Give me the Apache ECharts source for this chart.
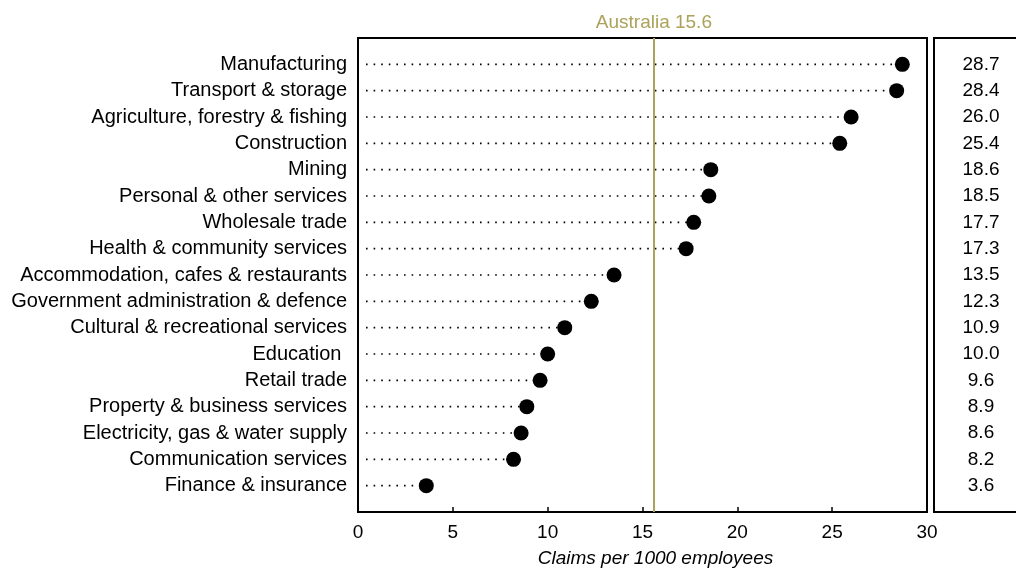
<!DOCTYPE html>
<html>
<head>
<meta charset="utf-8">
<script src="https://cdn.jsdelivr.net/npm/echarts@6/dist/echarts.min.js"></script>
<style>html,body{margin:0;padding:0;background:#fff}#c{width:1016px;height:570px}</style>
</head>
<body>
<div id="c"></div>
<script>
const industries = [
  'Manufacturing','Transport & storage','Agriculture, forestry & fishing','Construction',
  'Mining','Personal & other services','Wholesale trade','Health & community services',
  'Accommodation, cafes & restaurants','Government administration & defence',
  'Cultural & recreational services','Education ','Retail trade',
  'Property & business services','Electricity, gas & water supply',
  'Communication services','Finance & insurance'
];
const claims = [28.7,28.4,26.0,25.4,18.6,18.5,17.7,17.3,13.5,12.3,10.9,10.0,9.6,8.9,8.6,8.2,3.6];
const australiaAvg = 15.6;
const xTicks = [0,5,10,15,20,25,30];

const FONT = 'Liberation Sans, Arial, sans-serif';
const OLIVE = '#aca25a';

// category axis: blank at both ends, first industry at top
const cats = [''].concat(industries.slice().reverse()).concat(['']);
const n = industries.length;
const pts = industries.map((name, i) => [claims[i], n - i]);
const valPts = industries.map((name, i) => [0.5, n - i, claims[i]]);

const chart = echarts.init(document.getElementById('c'), null, {renderer: 'canvas'});
chart.setOption({
  animation: false,
  grid: [
    {left: 358, right: 89, top: 38, bottom: 58, show: true, borderColor: '#000', borderWidth: 2, backgroundColor: 'transparent', outerBoundsMode: 'none'},
    {left: 934, width: 94, top: 38, bottom: 58, show: true, borderColor: '#000', borderWidth: 2, backgroundColor: 'transparent', outerBoundsMode: 'none'}
  ],
  xAxis: [
    {
      type: 'value', gridIndex: 0, min: xTicks[0], max: xTicks[xTicks.length - 1], interval: 5,
      splitLine: {show: false},
      axisLine: {show: false},
      axisTick: {show: true, inside: true, length: 5, lineStyle: {color: '#000', width: 1.5}},
      axisLabel: {color: '#000', fontSize: 19, fontFamily: FONT, margin: 11},
      name: 'Claims per 1000 employees', nameLocation: 'middle', nameGap: 37,
      nameTextStyle: {color: '#000', fontSize: 19, fontFamily: FONT, fontStyle: 'italic', padding: [0, 0, 0, 26]}
    },
    {type: 'value', gridIndex: 1, min: 0, max: 1, show: false}
  ],
  yAxis: [
    {
      type: 'category', gridIndex: 0, data: cats, boundaryGap: false,
      axisLine: {show: false}, axisTick: {show: false}, splitLine: {show: false},
      axisLabel: {interval: 0, color: '#000', fontSize: 20, fontFamily: FONT, margin: 11}
    },
    {type: 'category', gridIndex: 1, data: cats, boundaryGap: false, show: false}
  ],
  series: [
    {
      type: 'custom', xAxisIndex: 0, yAxisIndex: 0, data: pts, encode: {x: 0, y: 1}, z: 2,
      renderItem: function (params, api) {
        const p0 = api.coord([0, api.value(1)]);
        const p1 = api.coord([api.value(0), api.value(1)]);
        return {
          type: 'line',
          shape: {x1: p0[0] + 8, y1: p0[1], x2: p1[0], y2: p1[1]},
          style: {stroke: '#000', lineWidth: 1.6, lineDash: [1.6, 6]}
        };
      }
    },
    {
      type: 'scatter', xAxisIndex: 0, yAxisIndex: 0, data: pts, symbol: 'circle', symbolSize: 15,
      itemStyle: {color: '#000', opacity: 1}, z: 3,
      markLine: {
        silent: true, symbol: 'none', animation: false,
        lineStyle: {color: OLIVE, width: 2, type: 'solid'},
        label: {show: true, position: 'end', distance: 6, formatter: 'Australia ' + australiaAvg.toFixed(1),
                color: OLIVE, fontSize: 19, fontFamily: FONT},
        data: [{xAxis: australiaAvg}]
      }
    },
    {
      type: 'scatter', xAxisIndex: 1, yAxisIndex: 1, data: valPts, symbolSize: 0,
      itemStyle: {color: '#000', opacity: 1},
      label: {show: true, position: 'inside', color: '#000', fontSize: 19, fontFamily: FONT,
              formatter: function (p) { return p.value[2].toFixed(1); }}
    }
  ]
});
</script>
</body>
</html>
